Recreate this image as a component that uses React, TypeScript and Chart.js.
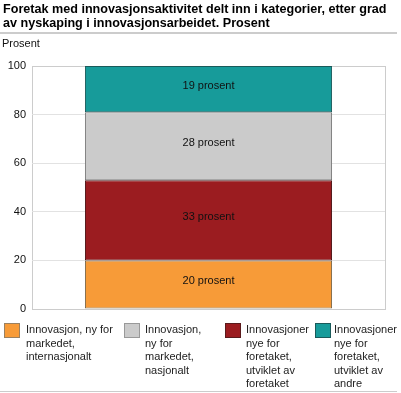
import React, { useEffect, useRef } from "react";
import { Chart, registerables } from "chart.js";

Chart.register(...registerables);

const titleLines = [
  "Foretak med innovasjonsaktivitet delt inn i kategorier, etter grad",
  "av nyskaping i innovasjonsarbeidet. Prosent",
];
const yAxisTitle = "Prosent";
const categories = ["Alle"];
// Series in legend order
const seriesLabels = [
  ["Innovasjon, ny for", "markedet,", "internasjonalt"],
  ["Innovasjon,", "ny for", "markedet,", "nasjonalt"],
  ["Innovasjoner", "nye for", "foretaket,", "utviklet av", "foretaket"],
  ["Innovasjoner", "nye for", "foretaket,", "utviklet av", "andre"],
];
const seriesValues = [20, 28, 33, 19];
const seriesColors = ["#f79b38", "#cbcbcb", "#9b1c20", "#179b9a"];
const seriesBorders = ["#7d6848", "#7a7a7a", "#4a1012", "#1a5a5a"];
const legendBoxBorders = ["#9a8060", "#999999", "#5a1a1c", "#1a5a5a"];
// Stack order from bottom to top (indices into the series)
const stackOrder = [0, 2, 1, 3];
const yTicks = [0, 20, 40, 60, 80, 100];
const labelSuffix = " prosent";

const legendBoxX = [4, 124, 225, 315];
const legendTextX = [26, 145, 246, 334];

const FONT = '"Liberation Sans", Arial, sans-serif';

const labelPlugin = {
  id: "segLabels",
  afterDatasetsDraw(chart: any) {
    const ctx = chart.ctx;
    ctx.save();
    ctx.font = `11px ${FONT}`;
    ctx.fillStyle = "#111";
    ctx.textAlign = "center";
    ctx.textBaseline = "middle";
    chart.data.datasets.forEach((ds: any, i: number) => {
      const meta = chart.getDatasetMeta(i);
      meta.data.forEach((el: any, j: number) => {
        const v = ds.data[j];
        const y = (el.y + el.base) / 2 - 3;
        ctx.fillText(`${v}${labelSuffix}`, el.x, y);
      });
    });
    ctx.restore();
  },
};

export default function App() {
  const ref = useRef<HTMLCanvasElement>(null);
  useEffect(() => {
    document.body.style.margin = "0";
    const canvas = ref.current!;
    const chart = new Chart(canvas, {
      type: "bar",
      data: {
        labels: categories,
        datasets: stackOrder.map((si) => ({
          label: seriesLabels[si].join(" "),
          data: [seriesValues[si]],
          backgroundColor: seriesColors[si],
          borderColor: seriesBorders[si],
          borderWidth: 1,
          borderSkipped: false,
          categoryPercentage: 1,
          barPercentage: 0.7,
        })),
      },
      options: {
        responsive: false,
        animation: false,
        devicePixelRatio: 1,
        layout: { padding: { top: 66, left: 0, right: 16, bottom: 84 } },
        plugins: {
          legend: { display: false },
          tooltip: { enabled: false },
          title: { display: false },
        },
        scales: {
          x: {
            stacked: true,
            offset: true,
            ticks: { display: false },
            grid: { color: "#cccccc", drawTicks: false, offset: true },
            border: { display: true, color: "#cccccc" },
            afterFit: (s: any) => {
              s.height = 0;
            },
          },
          y: {
            stacked: true,
            min: 0,
            max: 100,
            afterBuildTicks: (s: any) => {
              s.ticks = yTicks.map((v) => ({ value: v }));
            },
            ticks: {
              color: "#111",
              padding: 6,
              font: { family: FONT, size: 11 },
            },
            grid: {
              color: (c: any) =>
                c.tick && (c.tick.value === 100 || c.tick.value === 0) ? "#cccccc" : "#e2e2e2",
              lineWidth: 1,
              drawTicks: false,
            },
            border: { display: false },
            afterFit: (s: any) => {
              s.width = 32;
            },
          },
        },
      },
      plugins: [labelPlugin],
    });
    return () => chart.destroy();
  }, []);

  return (
    <div style={{ position: "relative", width: 401, height: 393, fontFamily: FONT, overflow: "hidden", background: "#fff" }}>
      <canvas ref={ref} width={401} height={393} style={{ position: "absolute", left: 0, top: 0, width: 401, height: 393 }} />
      <div style={{ position: "absolute", left: 3, top: 2, fontSize: 12.6, fontWeight: "bold", lineHeight: "14px", color: "#000", whiteSpace: "nowrap" }}>
        {titleLines.map((t, i) => (
          <div key={i}>{t}</div>
        ))}
      </div>
      <div style={{ position: "absolute", left: 0, top: 32, width: 397, height: 2, background: "#cccccc" }} />
      <div style={{ position: "absolute", left: 2, top: 37, fontSize: 11, lineHeight: "13px", color: "#111" }}>{yAxisTitle}</div>
      {seriesLabels.map((lines, i) => (
        <React.Fragment key={i}>
          <div
            style={{
              position: "absolute",
              left: legendBoxX[i],
              top: 323,
              width: 14,
              height: 13,
              background: seriesColors[i],
              border: `1px solid ${legendBoxBorders[i]}`,
            }}
          />
          <div style={{ position: "absolute", left: legendTextX[i], top: 323, fontSize: 11, lineHeight: "13.5px", color: "#222", whiteSpace: "nowrap" }}>
            {lines.map((l, k) => (
              <div key={k}>{l}</div>
            ))}
          </div>
        </React.Fragment>
      ))}
      <div style={{ position: "absolute", left: 0, top: 391, width: 397, height: 1, background: "#cccccc" }} />
    </div>
  );
}
